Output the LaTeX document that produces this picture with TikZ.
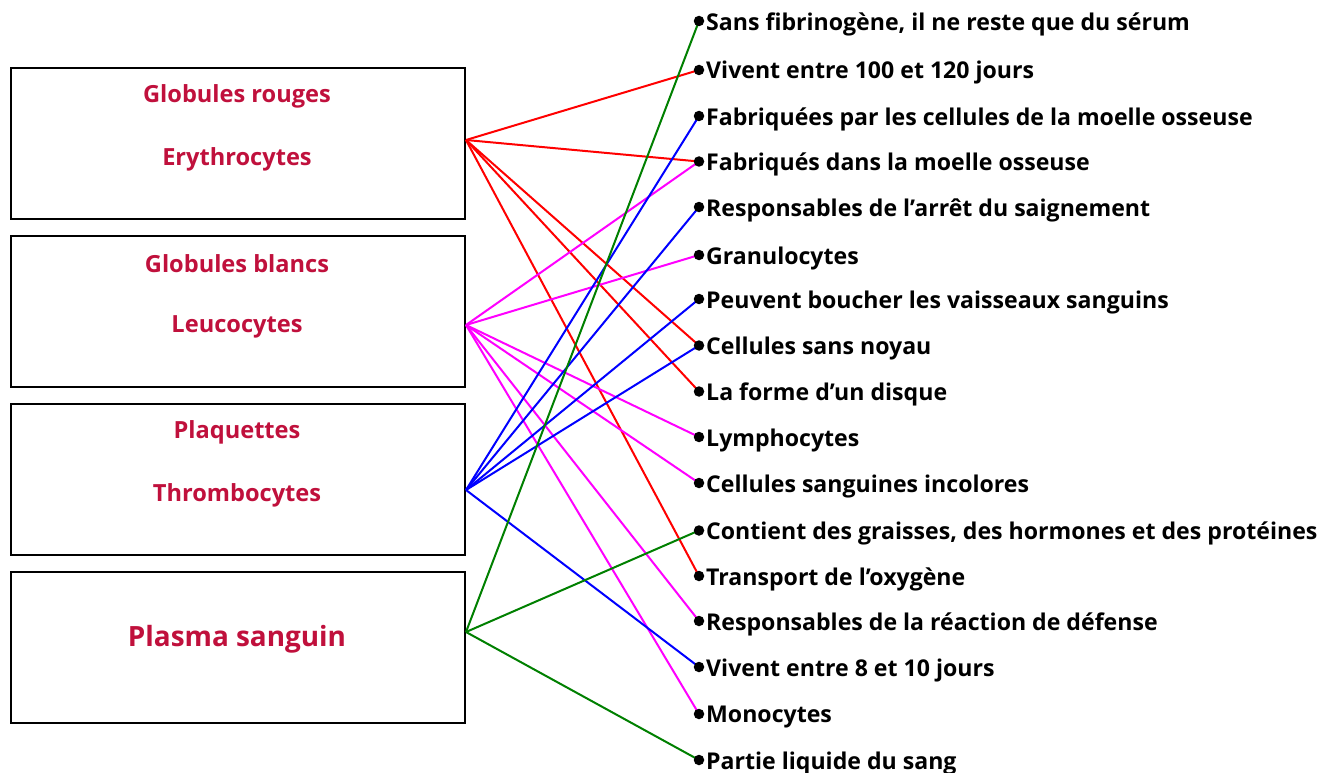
\documentclass[tikz,border=0pt]{standalone}
\usepackage{fontspec}
\setmainfont{Open Sans}
\definecolor{boxred}{RGB}{192,16,60}
\definecolor{lgreen}{RGB}{0,128,0}
\definecolor{lmag}{RGB}{255,0,255}
\begin{document}
\begin{tikzpicture}[x=1pt,y=-1pt,
  catbox/.style={draw=black,line width=2pt,minimum width=454pt,minimum height=151pt,inner sep=0pt,anchor=north west},
  cattext/.style={text=boxred,font=\fontsize{23.6}{26}\selectfont\bfseries},
  bigtext/.style={text=boxred,font=\fontsize{27.9}{32}\selectfont\bfseries},
  dotm/.style={circle,fill=black,inner sep=0pt,minimum size=10.5pt},
  lab/.style={anchor=west,inner sep=0pt,font=\fontsize{23.1}{26}\selectfont\bfseries},
  conn/.style={line width=2pt}]
\useasboundingbox (0,0) rectangle (1334,773);
\fill[white] (0,0) rectangle (1334,773);
% boxes
\node[catbox] (b1) at (10,67) {};
\node[catbox] (b2) at (10,235) {};
\node[catbox] (b3) at (10,403) {};
\node[catbox] (b4) at (10,571) {};
\node[cattext] (t1a) at (237,96) {Globules rouges};
\node[cattext] (t1b) at (237,159) {Erythrocytes};
\node[cattext] (t2a) at (237,264) {Globules blancs};
\node[cattext] (t2b) at (237,327) {Leucocytes};
\node[cattext] (t3a) at (237,432) {Plaquettes};
\node[cattext] (t3b) at (237,495) {Thrombocytes};
\node[bigtext] (t4) at (237,639) {Plasma sanguin};
% origins
\coordinate (o1) at (466,140);
\coordinate (o2) at (466,325);
\coordinate (o3) at (466,490);
\coordinate (o4) at (466,632);
% dots and labels
\foreach \i/\y/\t in {
 1/21/{Sans fibrinogène, il ne reste que du sérum},
 2/70/{Vivent entre 100 et 120 jours},
 3/116/{Fabriquées par les cellules de la moelle osseuse},
 4/161.5/{Fabriqués dans la moelle osseuse},
 5/207/{Responsables de l’arrêt du saignement},
 6/255/{Granulocytes},
 7/299/{Peuvent boucher les vaisseaux sanguins},
 8/345.5/{Cellules sans noyau},
 9/391.5/{La forme d’un disque},
 10/437/{Lymphocytes},
 11/483/{Cellules sanguines incolores},
 12/530.5/{Contient des graisses, des hormones et des protéines},
 13/576/{Transport de l’oxygène},
 14/621/{Responsables de la réaction de défense},
 15/667/{Vivent entre 8 et 10 jours},
 16/714/{Monocytes},
 17/760/{Partie liquide du sang}}{
 \coordinate (d\i) at (699,\y);
 \node[lab] (l\i) at (706,\y+3) {\t};
}
% connectors
\foreach \j in {2,4,8,9,13} \draw[conn,red] (o1) -- (d\j);
\foreach \j in {4,6,10,11,14,16} \draw[conn,lmag] (o2) -- (d\j);
\foreach \j in {3,5,7,8,15} \draw[conn,blue] (o3) -- (d\j);
\foreach \j in {1,12,17} \draw[conn,lgreen] (o4) -- (d\j);
\foreach \i in {1,...,17} \node[dotm] at (d\i) {};
\end{tikzpicture}
\end{document}
